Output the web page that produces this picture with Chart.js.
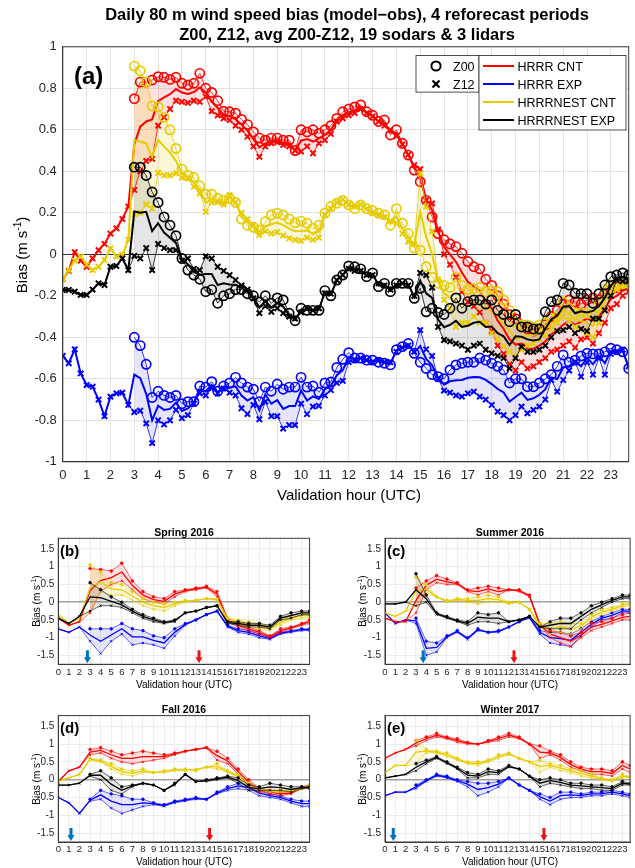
<!DOCTYPE html>
<html>
<head>
<meta charset="utf-8">
<script src="https://cdn.jsdelivr.net/npm/chart.js@4"></script>
<style>
  body { margin: 0; background: #fff; }
  #wrap { position: relative; width: 635px; height: 868px; overflow: hidden; background: #fff; }
  canvas { position: absolute; }
  #overlay { position: absolute; left: 0; top: 0; pointer-events: none; }
  #overlay text { font-family: "Liberation Sans", Arial, Helvetica, sans-serif; fill: #000; }
</style>
</head>
<body>
<div id="wrap">
  <canvas id="chartMain" width="635" height="490"></canvas>
  <canvas id="chartSpring" width="318" height="160"></canvas>
  <canvas id="chartSummer" width="317" height="160"></canvas>
  <canvas id="chartFall" width="318" height="160"></canvas>
  <canvas id="chartWinter" width="317" height="160"></canvas>

  <svg id="overlay" width="635" height="868">
    <!-- main titles and labels -->
    <text x="347" y="19.5" text-anchor="middle" font-size="16.5" font-weight="bold">Daily 80 m wind speed bias (model−obs), 4 reforecast periods</text>
    <text x="347" y="39.5" text-anchor="middle" font-size="16.5" font-weight="bold">Z00, Z12, avg Z00-Z12, 19 sodars &amp; 3 lidars</text>
    <text x="74" y="84" font-size="24" font-weight="bold">(a)</text>
    <text x="349" y="500" text-anchor="middle" font-size="15">Validation hour (UTC)</text>
    <text transform="translate(27,255) rotate(-90)" text-anchor="middle" font-size="15">Bias (m s<tspan font-size="10" dy="-6">-1</tspan><tspan dy="6">)</tspan></text>

    <!-- legend: forecast cycle -->
    <rect x="416" y="55.5" width="63" height="36.6" fill="#fff" stroke="#262626" stroke-width="0.8"/>
    <circle cx="436" cy="66" r="4.6" fill="none" stroke="#000" stroke-width="2"/>
    <path d="M432.5 80.5 L439.5 87.5 M439.5 80.5 L432.5 87.5" stroke="#000" stroke-width="2.2"/>
    <text x="453" y="70.5" font-size="12.5">Z00</text>
    <text x="453" y="88.5" font-size="12.5">Z12</text>
    <!-- legend: models -->
    <rect x="479" y="55.5" width="147" height="74.5" fill="#fff" stroke="#262626" stroke-width="0.8"/>
    <line x1="483" y1="66" x2="514" y2="66" stroke="rgb(255,0,0)" stroke-width="2"/>
    <line x1="483" y1="84" x2="514" y2="84" stroke="rgb(0,0,255)" stroke-width="2"/>
    <line x1="483" y1="102" x2="514" y2="102" stroke="rgb(230,204,0)" stroke-width="2"/>
    <line x1="483" y1="120" x2="514" y2="120" stroke="rgb(0,0,0)" stroke-width="2"/>
    <text x="517.5" y="70.5" font-size="12.5">HRRR CNT</text>
    <text x="517.5" y="88.5" font-size="12.5">HRRR EXP</text>
    <text x="517.5" y="106.5" font-size="12.5">HRRRNEST CNT</text>
    <text x="517.5" y="124.5" font-size="12.5">HRRRNEST EXP</text>

    <!-- small panels -->
    <text x="184" y="535.5" text-anchor="middle" font-size="10.5" font-weight="bold">Spring 2016</text>
    <text x="510" y="535.5" text-anchor="middle" font-size="10.5" font-weight="bold">Summer 2016</text>
    <text x="184" y="713" text-anchor="middle" font-size="10.5" font-weight="bold">Fall 2016</text>
    <text x="510" y="713" text-anchor="middle" font-size="10.5" font-weight="bold">Winter 2017</text>
    <text x="60" y="556" font-size="15" font-weight="bold">(b)</text>
    <text x="387" y="556" font-size="15" font-weight="bold">(c)</text>
    <text x="60" y="733" font-size="15" font-weight="bold">(d)</text>
    <text x="387" y="733" font-size="15" font-weight="bold">(e)</text>
    <text x="184" y="688" text-anchor="middle" font-size="10">Validation hour (UTC)</text>
    <text x="510" y="688" text-anchor="middle" font-size="10">Validation hour (UTC)</text>
    <text x="184" y="865" text-anchor="middle" font-size="10">Validation hour (UTC)</text>
    <text x="510" y="865" text-anchor="middle" font-size="10">Validation hour (UTC)</text>
    <text transform="translate(40,601) rotate(-90)" text-anchor="middle" font-size="10">Bias (m s<tspan font-size="7" dy="-4">-1</tspan><tspan dy="4">)</tspan></text>
    <text transform="translate(366,601) rotate(-90)" text-anchor="middle" font-size="10">Bias (m s<tspan font-size="7" dy="-4">-1</tspan><tspan dy="4">)</tspan></text>
    <text transform="translate(40,779) rotate(-90)" text-anchor="middle" font-size="10">Bias (m s<tspan font-size="7" dy="-4">-1</tspan><tspan dy="4">)</tspan></text>
    <text transform="translate(366,779) rotate(-90)" text-anchor="middle" font-size="10">Bias (m s<tspan font-size="7" dy="-4">-1</tspan><tspan dy="4">)</tspan></text>
  </svg>
</div>

<script>
// validation hours (UTC), every 15 min, panel (a)
const hours = [
  0, 0.25, 0.5, 0.75, 1, 1.25, 1.5, 1.75, 2, 2.25, 2.5, 2.75,
  3, 3.25, 3.5, 3.75, 4, 4.25, 4.5, 4.75, 5, 5.25, 5.5, 5.75,
  6, 6.25, 6.5, 6.75, 7, 7.25, 7.5, 7.75, 8, 8.25, 8.5, 8.75,
  9, 9.25, 9.5, 9.75, 10, 10.25, 10.5, 10.75, 11, 11.25, 11.5, 11.75,
  12, 12.25, 12.5, 12.75, 13, 13.25, 13.5, 13.75, 14, 14.25, 14.5, 14.75,
  15, 15.25, 15.5, 15.75, 16, 16.25, 16.5, 16.75, 17, 17.25, 17.5, 17.75,
  18, 18.25, 18.5, 18.75, 19, 19.25, 19.5, 19.75, 20, 20.25, 20.5, 20.75,
  21, 21.25, 21.5, 21.75, 22, 22.25, 22.5, 22.75, 23, 23.25, 23.5, 23.75
];

// panel (a) HRRR CNT
const redZ12 = [
  -0.12, -0.08, 0.01, -0.03, -0.06, -0.02, 0.02, 0.05, 0.10, 0.125, 0.17, 0.23,
  0.31, 0.40, 0.45, 0.46, 0.62, 0.66, 0.70, 0.74, 0.735, 0.73, 0.74, 0.735,
  0.76, 0.69, 0.67, 0.655, 0.647, 0.62, 0.60, 0.567, 0.52, 0.47, 0.52, 0.535,
  0.54, 0.527, 0.52, 0.50, 0.495, 0.52, 0.487, 0.535, 0.55, 0.58, 0.64, 0.655,
  0.67, 0.68, 0.70, 0.68, 0.665, 0.64, 0.62, 0.60, 0.57, 0.53, 0.48, 0.43,
  0.41, 0.26, 0.245, 0.12, 0.0, -0.05, -0.11, -0.18, -0.23, -0.25, -0.28, -0.33,
  -0.37, -0.44, -0.48, -0.53, -0.56, -0.52, -0.55, -0.54, -0.52, -0.50, -0.47, -0.46,
  -0.44, -0.42, -0.45, -0.41, -0.40, -0.43, -0.38, -0.33, -0.26, -0.24, -0.20, -0.18
];
const redZ00 = [
  null, null, null, null, null, null, null, null, null, null, null, null,
  0.75, 0.83, 0.83, 0.84, 0.856, 0.853, 0.843, 0.853, 0.824, 0.816, 0.824, 0.872,
  0.80, 0.78, 0.74, 0.69, 0.687, 0.68, 0.65, 0.625, 0.59, 0.56, 0.55, 0.56,
  0.56, 0.55, 0.55, 0.50, 0.60, 0.59, 0.60, 0.583, 0.60, 0.62, 0.655, 0.687,
  0.70, 0.71, 0.72, 0.687, 0.67, 0.64, 0.647, 0.575, 0.60, 0.535, 0.478, 0.406,
  0.35, 0.26, 0.18, 0.10, 0.07, 0.05, 0.037, 0.005, -0.035, -0.06, -0.07, -0.12,
  -0.15, -0.20, -0.24, -0.29, -0.31, -0.34, -0.36, -0.37, -0.36, -0.34, -0.30, -0.27,
  -0.24, -0.22, -0.23, -0.24, -0.22, -0.21, -0.22, -0.19, -0.17, -0.16, -0.15, -0.14
];

// panel (a) HRRR EXP
const blueZ12 = [
  -0.49, -0.525, -0.458, -0.574, -0.63, -0.638, -0.70, -0.78, -0.686, -0.67, -0.667, -0.726,
  -0.76, -0.754, -0.815, -0.91, -0.80, -0.82, -0.80, -0.75, -0.79, -0.775, -0.72, -0.67,
  -0.68, -0.646, -0.67, -0.646, -0.667, -0.68, -0.742, -0.77, -0.726, -0.795, -0.71, -0.78,
  -0.78, -0.84, -0.823, -0.823, -0.72, -0.77, -0.734, -0.73, -0.68, -0.654, -0.62, -0.61,
  -0.52, -0.51, -0.50, -0.51, -0.52, -0.51, -0.52, -0.52, -0.47, -0.45, -0.44, -0.47,
  -0.365, -0.458, -0.49, -0.60, -0.657, -0.667, -0.68, -0.686, -0.67, -0.662, -0.686, -0.70,
  -0.726, -0.758, -0.775, -0.80, -0.775, -0.734, -0.766, -0.75, -0.734, -0.70, -0.606, -0.662,
  -0.606, -0.56, -0.52, -0.59, -0.52, -0.58, -0.50, -0.58, -0.48, -0.47, -0.46, -0.54
];
const blueZ00 = [
  null, null, null, null, null, null, null, null, null, null, null, null,
  -0.40, -0.44, -0.53, -0.69, -0.66, -0.68, -0.69, -0.68, -0.72, -0.71, -0.71, -0.635,
  -0.64, -0.614, -0.66, -0.635, -0.62, -0.593, -0.62, -0.64, -0.65, -0.71, -0.64, -0.66,
  -0.625, -0.65, -0.64, -0.64, -0.593, -0.64, -0.635, -0.665, -0.62, -0.615, -0.545, -0.506,
  -0.474, -0.50, -0.50, -0.51, -0.51, -0.52, -0.525, -0.533, -0.46, -0.445, -0.43, -0.477,
  -0.52, -0.55, -0.58, -0.59, -0.60, -0.557, -0.533, -0.525, -0.52, -0.52, -0.50, -0.51,
  -0.525, -0.54, -0.557, -0.62, -0.60, -0.60, -0.638, -0.638, -0.62, -0.60, -0.58, -0.54,
  -0.485, -0.52, -0.51, -0.49, -0.477, -0.48, -0.48, -0.47, -0.453, -0.46, -0.47, -0.55
];

// panel (a) HRRRNEST CNT
const yellowZ12 = [
  -0.12, -0.076, -0.03, -0.01, -0.05, -0.076, -0.06, -0.027, 0.029, -0.01, -0.003, 0.07,
  0.194, 0.20, 0.24, 0.22, 0.393, 0.38, 0.38, 0.39, 0.37, 0.365, 0.326, 0.294,
  0.205, 0.25, 0.25, 0.24, 0.286, 0.25, 0.20, 0.17, 0.14, 0.093, 0.11, 0.10,
  0.107, 0.09, 0.077, 0.07, 0.065, 0.08, 0.07, 0.08, 0.19, 0.22, 0.25, 0.265,
  0.24, 0.23, 0.24, 0.22, 0.20, 0.19, 0.18, 0.16, 0.15, 0.10, 0.06, 0.05,
  0.39, 0.23, 0.11, -0.12, -0.22, -0.26, -0.35, -0.33, -0.33, -0.30, -0.33, -0.33,
  -0.38, -0.41, -0.445, -0.47, -0.49, -0.46, -0.44, -0.43, -0.41, -0.39, -0.36, -0.33,
  -0.30, -0.32, -0.35, -0.36, -0.38, -0.40, -0.33, -0.27, -0.19, -0.17, -0.15, -0.14
];
const yellowZ00 = [
  null, null, null, null, null, null, null, null, null, null, null, null,
  0.907, 0.885, 0.83, 0.715, 0.71, 0.66, 0.60, 0.51, 0.41, 0.38, 0.37, 0.33,
  0.29, 0.29, 0.27, 0.26, 0.27, 0.25, 0.17, 0.14, 0.13, 0.117, 0.157, 0.19,
  0.198, 0.19, 0.17, 0.152, 0.16, 0.15, 0.125, 0.14, 0.198, 0.23, 0.246, 0.26,
  0.238, 0.22, 0.238, 0.22, 0.21, 0.198, 0.19, 0.14, 0.22, 0.15, 0.10, 0.03,
  0.02, -0.06, -0.11, -0.14, -0.15, -0.16, -0.11, -0.15, -0.17, -0.165, -0.16, -0.18,
  -0.175, -0.18, -0.22, -0.27, -0.33, -0.34, -0.34, -0.35, -0.34, -0.33, -0.31, -0.30,
  -0.23, -0.26, -0.284, -0.28, -0.284, -0.29, -0.23, -0.17, -0.148, -0.15, -0.14, -0.14
];

// panel (a) HRRRNEST EXP
const blackZ12 = [
  -0.172, -0.172, -0.18, -0.196, -0.196, -0.17, -0.14, -0.148, -0.06, -0.056, -0.02, -0.076,
  -0.008, -0.02, 0.03, -0.076, 0.05, 0.03, 0.02, 0.02, -0.03, -0.02, -0.07, -0.076,
  -0.01, -0.02, -0.06, -0.08, -0.10, -0.124, -0.15, -0.17, -0.212, -0.284, -0.25, -0.277,
  -0.26, -0.284, -0.30, -0.31, -0.28, -0.26, -0.27, -0.26, -0.188, -0.19, -0.124, -0.10,
  -0.07, -0.08, -0.08, -0.10, -0.10, -0.14, -0.15, -0.17, -0.15, -0.14, -0.15, -0.20,
  -0.09, -0.10, -0.16, -0.35, -0.413, -0.42, -0.43, -0.44, -0.46, -0.44, -0.43, -0.46,
  -0.477, -0.49, -0.50, -0.55, -0.50, -0.445, -0.47, -0.47, -0.46, -0.44, -0.40, -0.37,
  -0.365, -0.35, -0.38, -0.36, -0.37, -0.31, -0.31, -0.27, -0.20, -0.124, -0.13, -0.13
];
const blackZ00 = [
  null, null, null, null, null, null, null, null, null, null, null, null,
  0.42, 0.42, 0.38, 0.30, 0.25, 0.18, 0.14, 0.09, -0.02, -0.076, -0.10, -0.12,
  -0.18, -0.17, -0.236, -0.20, -0.19, -0.17, -0.17, -0.19, -0.20, -0.23, -0.20, -0.236,
  -0.21, -0.22, -0.284, -0.32, -0.26, -0.27, -0.27, -0.27, -0.175, -0.20, -0.124, -0.10,
  -0.056, -0.06, -0.07, -0.108, -0.09, -0.156, -0.14, -0.18, -0.14, -0.14, -0.14, -0.212,
  -0.164, -0.277, -0.26, -0.28, -0.29, -0.26, -0.21, -0.26, -0.228, -0.22, -0.22, -0.24,
  -0.22, -0.27, -0.29, -0.325, -0.29, -0.35, -0.35, -0.36, -0.36, -0.277, -0.228, -0.22,
  -0.14, -0.148, -0.188, -0.19, -0.19, -0.236, -0.19, -0.148, -0.108, -0.10, -0.09, -0.10
];

// hours for the seasonal panels (b)-(e)
const subHours = [0, 1, 2, 3, 4, 5, 6, 7, 8, 9, 10, 11, 12, 13, 14, 15, 16, 17, 18, 19, 20, 21, 22, 23, 23.75];

// (b) Spring 2016
const springRedZ12 = [-0.45, -0.65, -0.55, -0.3, 0.3, 0.5, 0.6, 0.35, 0.1, 0.0, -0.05, 0.15, 0.3, 0.35, 0.4, 0.15, -0.55, -0.7, -0.8, -0.9, -1.0, -0.85, -0.75, -0.65, -0.6];
const springRedZ00 = [null, null, null, 0.95, 0.92, 0.88, 1.1, 0.6, 0.3, 0.15, 0.1, 0.3, 0.35, 0.4, 0.45, 0.3, -0.45, -0.6, -0.7, -0.8, -0.95, -0.75, -0.7, -0.6, -0.5];
const springBlueZ12 = [-0.75, -0.85, -0.7, -1.1, -1.45, -1.1, -0.9, -1.2, -1.15, -1.2, -1.3, -0.95, -0.65, -0.5, -0.35, -0.25, -0.7, -0.85, -0.9, -1.0, -1.05, -0.9, -0.85, -0.8, -0.8];
const springBlueZ00 = [null, null, null, -0.75, -0.75, -0.75, -0.6, -0.75, -0.8, -0.95, -1.0, -0.75, -0.6, -0.5, -0.35, -0.25, -0.65, -0.75, -0.8, -0.9, -1.0, -0.85, -0.8, -0.75, -0.75];
const springYellowZ12 = [-0.35, -0.6, -0.45, -0.25, 0.3, 0.2, 0.2, 0.05, -0.1, -0.2, -0.25, -0.1, 0.0, 0.05, 0.1, 0.05, -0.55, -0.6, -0.7, -0.75, -0.8, -0.65, -0.5, -0.45, -0.45];
const springYellowZ00 = [null, null, null, 1.05, 0.85, 0.55, 0.5, 0.3, 0.1, 0.0, -0.05, 0.0, 0.05, 0.05, 0.1, 0.1, -0.45, -0.5, -0.55, -0.6, -0.7, -0.5, -0.4, -0.3, -0.3];
const springBlackZ12 = [-0.45, -0.6, -0.4, -0.25, -0.1, -0.1, -0.15, -0.3, -0.45, -0.55, -0.6, -0.55, -0.3, -0.25, -0.15, -0.1, -0.6, -0.65, -0.7, -0.7, -0.75, -0.5, -0.45, -0.35, -0.35];
const springBlackZ00 = [null, null, null, 0.55, 0.35, 0.15, 0.0, -0.2, -0.35, -0.45, -0.55, -0.5, -0.3, -0.25, -0.15, -0.1, -0.55, -0.55, -0.6, -0.6, -0.65, -0.4, -0.3, -0.25, -0.25];

// (c) Summer 2016
const summerRedZ12 = [-0.45, -0.55, -0.55, -0.3, 0.35, 0.55, 0.5, 0.5, 0.3, 0.2, 0.3, 0.2, 0.35, 0.3, 0.15, -0.65, -1.0, -1.15, -1.25, -1.0, -0.8, -0.7, -0.6, -0.5, -0.5];
const summerRedZ00 = [null, null, null, 0.4, 0.6, 0.75, 0.65, 0.55, 0.35, 0.4, 0.45, 0.4, 0.35, 0.35, 0.2, -0.6, -0.8, -0.85, -0.95, -0.85, -0.6, -0.55, -0.45, -0.35, -0.3];
const summerBlueZ12 = [-0.3, -0.6, -0.5, -0.6, -1.5, -1.4, -1.0, -0.85, -1.05, -0.8, -0.85, -0.85, -0.7, -0.55, -0.45, -0.9, -1.15, -1.2, -1.25, -0.95, -0.7, -0.5, -0.45, -0.3, -0.3];
const summerBlueZ00 = [null, null, null, -0.45, -1.1, -1.15, -0.95, -0.8, -1.0, -0.75, -0.85, -0.8, -0.7, -0.55, -0.4, -0.8, -0.85, -0.85, -0.9, -0.75, -0.55, -0.4, -0.3, -0.2, -0.2];
const summerYellowZ12 = [-0.3, -0.4, -0.25, -0.1, 0.25, 0.15, 0.0, 0.05, 0.0, -0.05, 0.0, 0.0, -0.05, 0.0, -0.2, -0.7, -0.9, -0.85, -0.9, -0.75, -0.5, -0.35, -0.25, -0.15, -0.1];
const summerYellowZ00 = [null, null, null, 0.7, 0.5, 0.15, 0.05, 0.1, 0.1, 0.15, 0.2, 0.15, 0.0, 0.0, -0.2, -0.6, -0.6, -0.55, -0.6, -0.6, -0.35, -0.2, -0.15, -0.05, 0.0];
const summerBlackZ12 = [-0.05, -0.05, 0.0, -0.1, 0.0, -0.35, -0.45, -0.55, -0.65, -0.55, -0.55, -0.6, -0.55, -0.5, -0.4, -0.7, -0.75, -0.75, -0.75, -0.5, -0.3, -0.15, 0.0, 0.1, 0.1];
const summerBlackZ00 = [null, null, null, 0.8, 0.2, -0.3, -0.4, -0.5, -0.55, -0.3, -0.35, -0.3, -0.55, -0.5, -0.4, -0.7, -0.55, -0.45, -0.45, -0.3, -0.1, 0.0, 0.1, 0.2, 0.2];

// (d) Fall 2016
const fallRedZ12 = [-0.05, 0.25, 0.35, 0.7, 0.75, 0.6, 0.5, 0.45, 0.5, 0.55, 0.6, 0.7, 0.8, 0.85, 0.9, 0.55, 0.45, 0.15, -0.15, -0.35, -0.4, -0.45, -0.4, -0.25, -0.2];
const fallRedZ00 = [null, null, null, 0.85, 0.9, 0.8, 0.7, 0.75, 0.8, 0.75, 0.7, 0.75, 0.8, 0.85, 0.9, 0.8, 0.6, 0.3, 0.0, -0.25, -0.3, -0.35, -0.35, -0.2, -0.15];
const fallBlueZ12 = [-0.5, -0.65, -0.95, -0.6, -0.55, -0.8, -0.95, -0.85, -0.75, -0.7, -0.75, -0.65, -0.6, -0.55, -0.55, -0.4, -0.3, -0.25, -0.3, -0.45, -0.5, -0.55, -0.65, -0.75, -0.75];
const fallBlueZ00 = [null, null, null, -0.55, -0.3, -0.4, -0.45, -0.55, -0.55, -0.65, -0.7, -0.6, -0.55, -0.5, -0.55, -0.35, -0.2, -0.1, -0.15, -0.3, -0.4, -0.45, -0.55, -0.6, -0.6];
const fallYellowZ12 = [-0.05, 0.05, 0.15, 0.55, 0.5, 0.3, 0.15, 0.1, 0.2, 0.2, 0.2, 0.25, 0.25, 0.3, 0.35, 0.3, 0.2, 0.05, -0.2, -0.3, -0.35, -0.35, -0.35, -0.25, -0.2];
const fallYellowZ00 = [null, null, null, 0.6, 0.55, 0.45, 0.3, 0.25, 0.3, 0.2, 0.25, 0.3, 0.3, 0.25, 0.35, 0.45, 0.25, 0.15, -0.1, -0.25, -0.3, -0.3, -0.3, -0.25, -0.15];
const fallBlackZ12 = [-0.15, -0.15, -0.1, 0.1, 0.0, -0.3, -0.4, -0.2, -0.1, -0.15, -0.3, -0.15, 0.15, -0.05, -0.05, 0.0, 0.05, -0.1, -0.3, -0.3, -0.3, -0.3, -0.35, -0.25, -0.25];
const fallBlackZ00 = [null, null, null, 0.15, 0.25, 0.05, -0.2, -0.15, -0.1, -0.15, -0.3, -0.1, 0.15, -0.05, 0.0, 0.05, 0.1, 0.05, -0.15, -0.2, -0.1, -0.15, -0.2, -0.2, -0.2];

// (e) Winter 2017
const winterRedZ12 = [0.6, 0.75, 0.85, 0.95, 1.1, 1.2, 1.15, 1.05, 1.0, 1.0, 1.05, 1.1, 1.2, 1.15, 1.0, 0.6, 0.7, 0.55, 0.35, 0.25, 0.15, 0.15, 0.1, 0.3, 0.2];
const winterRedZ00 = [null, null, null, 1.1, 1.2, 1.3, 1.2, 1.15, 1.05, 1.0, 1.1, 1.2, 1.3, 1.2, 1.0, 0.95, 0.8, 0.7, 0.5, 0.35, 0.3, 0.3, 0.25, 0.5, 0.4];
const winterBlueZ12 = [-0.45, -0.35, -0.35, -0.25, -0.05, 0.1, 0.05, -0.05, -0.2, -0.45, -0.35, -0.2, 0.05, -0.15, -0.3, -0.55, -0.7, -0.55, -0.5, -0.5, -0.45, -0.45, -0.4, -0.45, -0.5];
const winterBlueZ00 = [null, null, null, -0.15, 0.0, 0.15, 0.1, 0.0, -0.05, -0.1, -0.1, -0.05, 0.05, -0.15, -0.3, -0.4, -0.5, -0.35, -0.35, -0.4, -0.35, -0.35, -0.3, -0.35, -0.4];
const winterYellowZ12 = [0.2, 0.4, 0.4, 0.45, 0.75, 0.75, 0.65, 0.55, 0.45, 0.4, 0.5, 0.6, 0.7, 0.6, 0.5, 0.2, 0.35, 0.25, 0.2, 0.1, 0.05, 0.0, -0.05, 0.05, 0.05];
const winterYellowZ00 = [null, null, null, 1.1, 0.85, 0.8, 0.75, 0.6, 0.5, 0.5, 0.55, 0.7, 0.75, 0.6, 0.5, 0.55, 0.45, 0.4, 0.3, 0.25, 0.15, 0.05, 0.0, 0.15, 0.1];
const winterBlackZ12 = [0.05, 0.1, 0.15, 0.25, 0.45, 0.6, 0.45, 0.3, 0.05, 0.05, 0.15, 0.15, 0.35, 0.3, 0.1, -0.2, -0.1, -0.15, -0.2, -0.25, -0.25, -0.3, -0.3, -0.15, -0.15];
const winterBlackZ00 = [null, null, null, 0.45, 0.55, 0.65, 0.5, 0.35, 0.2, 0.15, 0.3, 0.25, 0.4, 0.3, 0.1, 0.0, 0.05, 0.0, -0.1, -0.1, -0.15, -0.15, -0.2, -0.05, -0.1];

// arrow markers under the seasonal panels (hour), order b, c, d, e
const blueArrowHours = [2.75, 3.7, 1.2, 0.8];
const redArrowHours = [13.3, 12.5, 14.3, 15.4];

// tick values
const hourTicks = [0, 1, 2, 3, 4, 5, 6, 7, 8, 9, 10, 11, 12, 13, 14, 15, 16, 17, 18, 19, 20, 21, 22, 23];
const mainBiasTicks = [-1, -0.8, -0.6, -0.4, -0.2, 0, 0.2, 0.4, 0.6, 0.8, 1];
const subBiasTicks = [-1.5, -1, -0.5, 0, 0.5, 1, 1.5];

const FONT = '"Liberation Sans", Arial, Helvetica, sans-serif';
const RED = 'rgb(255,0,0)', BLUE = 'rgb(0,0,255)', YELLOW = 'rgb(230,204,0)', BLACK = 'rgb(0,0,0)';
const FILLS = {
  red: 'rgba(255,0,0,0.12)',
  blue: 'rgba(0,0,255,0.10)',
  yellow: 'rgba(230,204,0,0.16)',
  black: 'rgba(0,0,0,0.10)'
};

const toPoints = (xs, arr) => xs.map((x, i) => ({ x: x, y: arr[i] })).filter(p => p.y !== null);

// avg line + Z00 (filled to Z12) + Z12 for one model
const buildSets = (xs, z00, z12, color, fill, st) => {
  const avg = z12.map((v, i) => z00[i] === null ? v : (z00[i] + v) / 2);
  return [
    {
      data: toPoints(xs, avg), borderColor: color, borderWidth: st.avgW,
      pointRadius: 0, fill: false
    },
    {
      data: toPoints(xs, z00), borderColor: color, borderWidth: st.lineW,
      backgroundColor: fill, fill: '+1',
      pointStyle: 'circle', pointRadius: st.r00, pointBorderWidth: st.pw00,
      pointBorderColor: color, pointBackgroundColor: st.dots ? color : 'rgba(0,0,0,0)'
    },
    {
      data: toPoints(xs, z12), borderColor: color, borderWidth: st.lineW, fill: false,
      pointStyle: 'crossRot', pointRadius: st.r12, pointBorderWidth: st.pw12,
      pointBorderColor: color
    }
  ];
};

// box around the axes and the little arrows
const framePlugin = {
  id: 'frame',
  afterDatasetsDraw(chart, args, opts) {
    const ctx = chart.ctx, area = chart.chartArea, x = chart.scales.x;
    ctx.save();
    (opts.arrows || []).forEach(a => {
      const px = x.getPixelForValue(a.hour);
      const yb = area.bottom - 1, yt = area.bottom - 14;
      ctx.fillStyle = a.color;
      ctx.fillRect(px - 1.5, yt, 3, 9);
      ctx.beginPath();
      ctx.moveTo(px - 3.5, yb - 6);
      ctx.lineTo(px + 3.5, yb - 6);
      ctx.lineTo(px, yb);
      ctx.closePath();
      ctx.fill();
    });
    ctx.strokeStyle = '#3a3a3a';
    ctx.lineWidth = 1;
    ctx.strokeRect(area.left, area.top, area.right - area.left, area.bottom - area.top);
    ctx.restore();
  }
};

const makeChart = (id, box, xs, models, st, arrows) => {
  const canvas = document.getElementById(id);
  canvas.style.left = box.cx + 'px';
  canvas.style.top = box.cy + 'px';
  let sets = [];
  models.forEach(m => { sets = sets.concat(buildSets(xs, m[0], m[1], m[2], m[3], st)); });

  return new Chart(canvas.getContext('2d'), {
    type: 'line',
    data: { datasets: sets },
    options: {
      responsive: false,
      animation: false,
      devicePixelRatio: 1,
      events: [],
      layout: {
        padding: { left: 0, top: box.t - box.cy, right: box.cx + canvas.width - box.r, bottom: 0 }
      },
      plugins: {
        legend: { display: false },
        tooltip: { enabled: false },
        filler: { drawTime: 'beforeDatasetsDraw' },
        frame: { arrows: arrows }
      },
      scales: {
        x: {
          type: 'linear', min: 0, max: 23.75,
          afterBuildTicks: s => { s.ticks = hourTicks.map(v => ({ value: v })); },
          afterFit: s => { s.height = box.cy + canvas.height - box.b; },
          ticks: {
            autoSkip: false, maxRotation: 0, padding: st.xPad, color: '#262626',
            font: { family: FONT, size: st.xFont }, callback: v => String(v)
          },
          grid: { color: st.grid, drawTicks: false },
          border: { color: '#3a3a3a' }
        },
        y: {
          type: 'linear', min: st.yMin, max: st.yMax,
          afterBuildTicks: s => { s.ticks = st.yTicks.map(v => ({ value: v })); },
          afterFit: s => { s.width = box.l - box.cx; },
          ticks: {
            padding: st.yPad, color: '#262626',
            font: { family: FONT, size: st.yFont }, callback: v => String(v)
          },
          grid: {
            drawTicks: false,
            color: c => (c.tick && c.tick.value === 0) ? st.zero : st.grid,
            lineWidth: c => (c.tick && c.tick.value === 0) ? st.zeroW : 1
          },
          border: { color: '#3a3a3a' }
        }
      }
    },
    plugins: [framePlugin]
  });
};

const mainStyle = {
  avgW: 2, lineW: 0.8, r00: 4.6, pw00: 1.7, r12: 3.8, pw12: 2, dots: false,
  xFont: 13, yFont: 13, xPad: 6, yPad: 6, yMin: -1, yMax: 1, yTicks: mainBiasTicks,
  grid: '#e4e4e4', zero: '#333333', zeroW: 1
};
const subStyle = {
  avgW: 1.3, lineW: 0.6, r00: 1.3, pw00: 0.8, r12: 1.5, pw12: 0.9, dots: true,
  xFont: 9.5, yFont: 10, xPad: 2, yPad: 4, yMin: -1.75, yMax: 1.8, yTicks: subBiasTicks,
  grid: '#ececec', zero: '#a0a0a0', zeroW: 1.5
};

// drawing order: first model ends up on top
makeChart('chartMain', { cx: 0, cy: 0, l: 62.8, t: 46.8, r: 630, b: 461.8 }, hours, [
  [blackZ00, blackZ12, BLACK, FILLS.black],
  [yellowZ00, yellowZ12, YELLOW, FILLS.yellow],
  [redZ00, redZ12, RED, FILLS.red],
  [blueZ00, blueZ12, BLUE, FILLS.blue]
], mainStyle, []);

const arrowsFor = i => [
  { hour: blueArrowHours[i], color: 'rgb(0,114,189)' },
  { hour: redArrowHours[i], color: 'rgb(235,20,20)' }
];

makeChart('chartSpring', { cx: 0, cy: 520, l: 58.3, t: 538.3, r: 309.6, b: 664.3 }, subHours, [
  [springBlackZ00, springBlackZ12, BLACK, FILLS.black],
  [springYellowZ00, springYellowZ12, YELLOW, FILLS.yellow],
  [springRedZ00, springRedZ12, RED, FILLS.red],
  [springBlueZ00, springBlueZ12, BLUE, FILLS.blue]
], subStyle, arrowsFor(0));

makeChart('chartSummer', { cx: 318, cy: 520, l: 385, t: 538.3, r: 634.6, b: 664.3 }, subHours, [
  [summerBlackZ00, summerBlackZ12, BLACK, FILLS.black],
  [summerYellowZ00, summerYellowZ12, YELLOW, FILLS.yellow],
  [summerRedZ00, summerRedZ12, RED, FILLS.red],
  [summerBlueZ00, summerBlueZ12, BLUE, FILLS.blue]
], subStyle, arrowsFor(1));

makeChart('chartFall', { cx: 0, cy: 700, l: 58.3, t: 715.6, r: 309.6, b: 842 }, subHours, [
  [fallBlackZ00, fallBlackZ12, BLACK, FILLS.black],
  [fallYellowZ00, fallYellowZ12, YELLOW, FILLS.yellow],
  [fallRedZ00, fallRedZ12, RED, FILLS.red],
  [fallBlueZ00, fallBlueZ12, BLUE, FILLS.blue]
], subStyle, arrowsFor(2));

makeChart('chartWinter', { cx: 318, cy: 700, l: 385, t: 715.6, r: 634.6, b: 842 }, subHours, [
  [winterBlackZ00, winterBlackZ12, BLACK, FILLS.black],
  [winterYellowZ00, winterYellowZ12, YELLOW, FILLS.yellow],
  [winterRedZ00, winterRedZ12, RED, FILLS.red],
  [winterBlueZ00, winterBlueZ12, BLUE, FILLS.blue]
], subStyle, arrowsFor(3));
</script>
</body>
</html>
